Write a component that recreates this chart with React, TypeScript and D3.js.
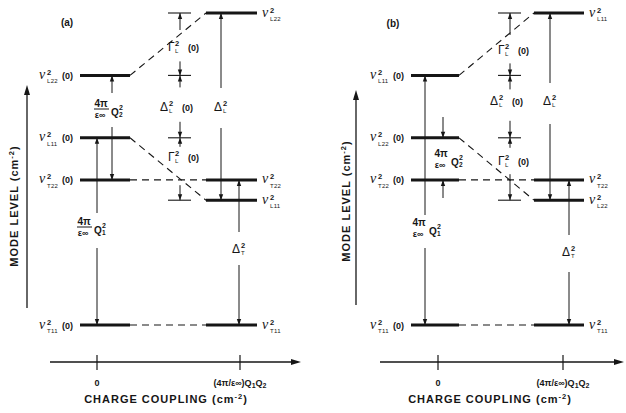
import React from "react";
import * as d3 from "d3";

// ---- data ----
const couplingValues = [0, 1];
const couplingTickLabels = ["0", "(4π/ε∞)Q1Q2"];
const panelTitles = ["(a)", "(b)"];
const modesA = ["T11", "T22", "L11", "L22"];
const modesB = ["T11", "T22", "L22", "L11"];
const levelUncoupled = [0, 46.5, 60, 80]; // ν²(0)
const levelCoupled = [0, 46.5, 40, 100]; // ν² with coupling
const yAxisTitle = "MODE LEVEL (cm";
const xAxisTitle = "CHARGE COUPLING (cm";

const W = 626;
const H = 413;
const FONT = "'Liberation Sans', Arial, sans-serif";
const SERIF = "'Liberation Serif', 'Times New Roman', serif";
const INK = "#161616";

const yScale = d3.scaleLinear().domain([0, 100]).range([325, 13]);

type Layout = {
  xRange: [number, number];
  leftBar: [number, number];
  rightBar: [number, number];
  colA: number;
  colB: number;
  mid: number;
  right1: number;
  right2: number;
  yAxisX: number;
  yAxisTop: number;
  yAxisBottom: number;
  yTitleX: number;
  yTitleY: number;
  xAxisStart: number;
  xAxisEnd: number;
  xTitleX: number;
  titleX: number;
  titleY: number;
  variant: "a" | "b";
};

const layouts: Layout[] = [
  {
    xRange: [97, 240], leftBar: [-17, 33], rightBar: [-34, 17],
    colA: 0, colB: 15, mid: 83, right1: -19, right2: -1,
    yAxisX: 27, yAxisTop: 85, yAxisBottom: 308, yTitleX: 18, yTitleY: 206,
    xAxisStart: 50, xAxisEnd: 301, xTitleX: 166, titleX: 67, titleY: 26, variant: "a",
  },
  {
    xRange: [438, 563], leftBar: [-27, 21], rightBar: [-29, 21],
    colA: -13, colB: 5, mid: 72, right1: -13, right2: 6,
    yAxisX: 356, yAxisTop: 90, yAxisBottom: 305, yTitleX: 350, yTitleY: 201,
    xAxisStart: 380, xAxisEnd: 624, xTitleX: 490, titleX: 393, titleY: 27, variant: "b",
  },
];

// ---- helpers ----
function Head({ x, y, dir, len = 6, hw = 2.2 }: { x: number; y: number; dir: number; len?: number; hw?: number }) {
  const by = y - dir * len;
  return <polygon points={`${x},${y} ${x - hw},${by} ${x + hw},${by}`} fill={INK} />;
}

function VArrow({ x, tip, tail }: { x: number; tip: number; tail: number }) {
  const dir = Math.sign(tip - tail);
  return (
    <g>
      <line x1={x} x2={x} y1={tail} y2={tip} stroke={INK} strokeWidth={1} />
      <Head x={x} y={tip} dir={dir} />
    </g>
  );
}

function NuLabel({ x, y, sub, zero }: { x: number; y: number; sub: string; zero?: boolean }) {
  return (
    <g fill={INK} fontFamily={FONT}>
      <text x={x} y={y + 3.5} fontSize={14} fontStyle="italic" fontFamily={SERIF}>ν</text>
      <text x={x + 8} y={y - 0.5} fontSize={7.5} fontWeight="bold">2</text>
      <text x={x + 8} y={y + 8} fontSize={6} letterSpacing={0.3}>{sub}</text>
      {zero && <text x={x + 23} y={y + 3.5} fontSize={9} fontWeight="bold">(0)</text>}
    </g>
  );
}

function SymLabel({ x, y, sym, sub, zero }: { x: number; y: number; sym: string; sub: string; zero?: boolean }) {
  const sw = sym === "Δ" ? 9 : 7;
  return (
    <g fill={INK} fontFamily={FONT}>
      <text x={x} y={y + 4} fontSize={12}>{sym}</text>
      <text x={x + sw} y={y - 1} fontSize={7.5} fontWeight="bold">2</text>
      <text x={x + sw} y={y + 6} fontSize={6}>{sub}</text>
      {zero && <text x={x + sw + 13} y={y + 3.5} fontSize={9} fontWeight="bold">(0)</text>}
    </g>
  );
}

function QLabel({ x, y, q, bar }: { x: number; y: number; q: string; bar: boolean }) {
  return (
    <g fill={INK} fontFamily={FONT} fontWeight="bold">
      <text x={x + 7} y={y} fontSize={10} textAnchor="middle">4π</text>
      {bar && <line x1={x} x2={x + 15} y1={y + 2} y2={y + 2} stroke={INK} strokeWidth={1} />}
      <text x={x + 6} y={y + 11} fontSize={9} textAnchor="middle">ε∞</text>
      <text x={x + 17} y={y + 9} fontSize={10}>Q</text>
      <text x={x + 25} y={y + 3} fontSize={7}>2</text>
      <text x={x + 25} y={y + 10} fontSize={6.5}>{q}</text>
    </g>
  );
}

function Panel({ layout, modes, title }: { layout: Layout; modes: string[]; title: string }) {
  const xScale = d3.scaleLinear().domain([0, 1]).range(layout.xRange);
  const x0 = xScale(couplingValues[0]);
  const x1 = xScale(couplingValues[1]);
  const L = layout;
  const idx = (m: string) => modes.indexOf(m);
  const yU = (m: string) => yScale(levelUncoupled[idx(m)]);

  const top = yScale(d3.max(levelCoupled) as number);
  const u1 = yScale(levelUncoupled[3]);
  const u2 = yScale(levelUncoupled[2]);
  const c2 = yScale(levelCoupled[2]);
  const tT22 = yScale(levelCoupled[1]);
  const bottom = yScale(levelCoupled[0]);

  const mid = x0 + L.mid;
  const r1 = x1 + L.right1;
  const r2 = x1 + L.right2;
  const cA = x0 + L.colA;
  const cB = x0 + L.colB;
  const isA = L.variant === "a";

  return (
    <g>
      <text x={L.titleX} y={L.titleY} fontFamily={FONT} fontSize={10} fontWeight="bold" fill={INK} textAnchor="middle">{title}</text>

      {/* y axis */}
      <line x1={L.yAxisX} x2={L.yAxisX} y1={L.yAxisBottom} y2={L.yAxisTop + 6} stroke={INK} strokeWidth={1.3} />
      <Head x={L.yAxisX} y={L.yAxisTop} dir={-1} len={10} hw={3} />
      <text
        transform={`translate(${L.yTitleX},${L.yTitleY}) rotate(-90)`}
        fontFamily={FONT} fontSize={11} fontWeight="bold" fill={INK} textAnchor="middle" letterSpacing={1}
      >
        {yAxisTitle}
        <tspan dy={-4} fontSize={7.5}>-2</tspan>
        <tspan dy={4}>)</tspan>
      </text>

      {/* x axis */}
      <line x1={L.xAxisStart} x2={L.xAxisEnd - 6} y1={362} y2={362} stroke={INK} strokeWidth={1.3} />
      <polygon points={`${L.xAxisEnd},362 ${L.xAxisEnd - 10},359 ${L.xAxisEnd - 10},365`} fill={INK} />
      {couplingValues.map((c, i) => (
        <g key={i}>
          <line x1={xScale(c)} x2={xScale(c)} y1={355} y2={370} stroke={INK} strokeWidth={1.2} />
          {i === 0 ? (
            <text x={xScale(c)} y={386} fontFamily={FONT} fontSize={9} fontWeight="bold" fill={INK} textAnchor="middle">{couplingTickLabels[i]}</text>
          ) : (
            <text x={xScale(c)} y={386} fontFamily={FONT} fontSize={9} fontWeight="bold" fill={INK} textAnchor="middle">
              {"(4π/ε∞)Q"}
              <tspan dy={2} fontSize={7}>1</tspan>
              <tspan dy={-2}>Q</tspan>
              <tspan dy={2} fontSize={7}>2</tspan>
            </text>
          )}
        </g>
      ))}
      <text x={L.xTitleX} y={403} fontFamily={FONT} fontSize={11} fontWeight="bold" fill={INK} textAnchor="middle" letterSpacing={1}>
        {xAxisTitle}
        <tspan dy={-4} fontSize={7.5}>-2</tspan>
        <tspan dy={4}>)</tspan>
      </text>

      {/* level bars and dashed correlations */}
      {modes.map((m, i) => {
        const yu = yScale(levelUncoupled[i]);
        const yc = yScale(levelCoupled[i]);
        return (
          <g key={m}>
            <line x1={x0 + L.leftBar[0]} x2={x0 + L.leftBar[1]} y1={yu} y2={yu} stroke={INK} strokeWidth={3} />
            <line x1={x1 + L.rightBar[0]} x2={x1 + L.rightBar[1]} y1={yc} y2={yc} stroke={INK} strokeWidth={3} />
            <line
              x1={x0 + L.leftBar[1]} y1={yu} x2={x1 + L.rightBar[0]} y2={yc}
              stroke={INK} strokeWidth={1.1} strokeDasharray="7,5"
            />
            <NuLabel x={x0 + L.leftBar[0] - 41} y={yu} sub={m} zero />
            <NuLabel x={x1 + L.rightBar[1] + 5} y={yc} sub={m} />
          </g>
        );
      })}

      {/* middle column */}
      {[top, u1, u2, c2].map((y, i) => (
        <line key={i} x1={mid - 12} x2={mid + 11} y1={y} y2={y} stroke={INK} strokeWidth={1.1} />
      ))}
      <VArrow x={mid} tip={top} tail={top + (isA ? 17 : 22)} />
      <VArrow x={mid} tip={u1} tail={u1 - (isA ? 14 : 12)} />
      <SymLabel x={mid - 12} y={isA ? 47 : 50} sym="Γ" sub="L" zero />
      <VArrow x={mid} tip={u1} tail={u1 + (isA ? 12 : 14)} />
      <VArrow x={mid} tip={u2} tail={u2 - (isA ? 16 : 17)} />
      <SymLabel x={mid - 20} y={isA ? 107 : 101} sym="Δ" sub="L" zero />
      <VArrow x={mid} tip={u2} tail={u2 + (isA ? 9 : 10)} />
      <VArrow x={mid} tip={c2} tail={c2 - (isA ? 15 : 26)} />
      <SymLabel x={mid - 12} y={isA ? 157 : 161} sym="Γ" sub="L" zero />

      {/* right columns */}
      <VArrow x={r1} tip={top} tail={isA ? 88 : 83} />
      <VArrow x={r1} tip={c2} tail={isA ? 128 : 124} />
      <SymLabel x={r1 - 7} y={isA ? 107 : 101} sym="Δ" sub="L" />
      <VArrow x={r2} tip={tT22} tail={isA ? 232 : 235} />
      <VArrow x={r2} tip={bottom} tail={isA ? 265 : 272} />
      <SymLabel x={r2 - 7} y={isA ? 249 : 252} sym="Δ" sub="T" />

      {/* left columns */}
      {isA ? (
        <g>
          <VArrow x={cA} tip={yU("L11")} tail={213} />
          <VArrow x={cA} tip={yU("T11")} tail={248} />
          <QLabel x={77} y={225} q="1" bar />
          <VArrow x={cB} tip={yU("L22")} tail={93} />
          <VArrow x={cB} tip={yU("T22")} tail={127} />
          <QLabel x={94} y={107} q="2" bar />
        </g>
      ) : (
        <g>
          <VArrow x={cA} tip={yU("L11")} tail={215} />
          <VArrow x={cA} tip={yU("T11")} tail={248} />
          <QLabel x={412} y={226} q="1" bar={false} />
          <VArrow x={cB} tip={yU("L22")} tail={117} />
          <VArrow x={cB} tip={yU("T22")} tail={198} />
          <QLabel x={434} y={157} q="2" bar={false} />
        </g>
      )}
    </g>
  );
}

export default function App() {
  return (
    <svg width={W} height={H} viewBox={`0 0 ${W} ${H}`} style={{ position: "absolute", left: 0, top: 0, background: "#fff" }}>
      <rect x={0} y={0} width={W} height={H} fill="#fff" />
      <Panel layout={layouts[0]} modes={modesA} title={panelTitles[0]} />
      <Panel layout={layouts[1]} modes={modesB} title={panelTitles[1]} />
    </svg>
  );
}
